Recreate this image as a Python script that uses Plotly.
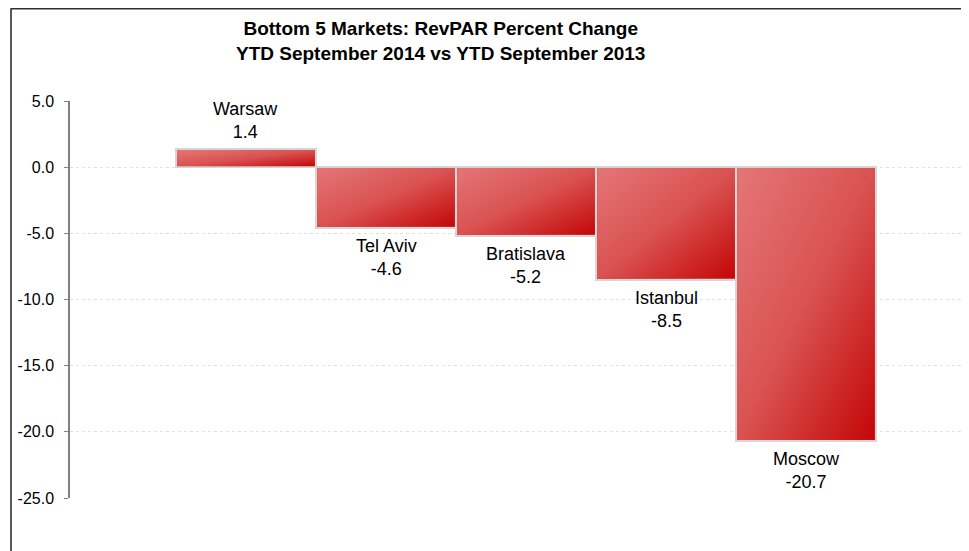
import base64
import plotly.graph_objects as go

markets = ["Warsaw", "Tel Aviv", "Bratislava", "Istanbul", "Moscow"]
revpar_change = [1.4, -4.6, -5.2, -8.5, -20.7]
y_ticks = [5, 0, -5, -10, -15, -20, -25]
y_tick_labels = ["5.0", "0.0", "-5.0", "-10.0", "-15.0", "-20.0", "-25.0"]
title_lines = ["Bottom 5 Markets: RevPAR Percent Change", "YTD September 2014 vs YTD September 2013"]

FONT = "Liberation Sans, Arial, sans-serif"

# The page keeps its default 8px body margin, so the figure starts at page (8, 8).
OFF = 8
# plot-area geometry in page pixels
L, R, T, B = 70, 969, 101, 498
W, H = 969 - OFF, 551 - OFF


def px_x(p):
    return (p - L) / (R - L)


def px_y(p):
    return (B - p) / (B - T)


svg = ('<svg xmlns="http://www.w3.org/2000/svg" width="100" height="100" viewBox="0 0 100 100" '
       'preserveAspectRatio="none"><defs><linearGradient id="g" x1="0" y1="0" x2="1" y2="1">'
       '<stop offset="0" stop-color="#e47676"/><stop offset="0.5" stop-color="#da5252"/>'
       '<stop offset="1" stop-color="#c40606"/></linearGradient></defs>'
       '<rect x="0" y="0" width="100" height="100" fill="url(#g)"/></svg>')
grad_src = "data:image/svg+xml;base64," + base64.b64encode(svg.encode()).decode()

x_idx = list(range(len(markets)))

fig = go.Figure()
fig.add_trace(go.Bar(
    x=x_idx, y=revpar_change, width=1.0,
    marker=dict(color="#d84c4c", line=dict(color="#d6d6d6", width=2)),
    hoverinfo="skip", showlegend=False,
))

images = []
annotations = []
dx = 0.008
dy = 0.09
lab_font = dict(family=FONT, size=18, color="#000000")
for i, v in enumerate(revpar_change):
    images.append(dict(
        source=grad_src, xref="x", yref="y",
        x=i - 0.5 + dx, y=max(v, 0) - (dy if v > 0 else dy * 0.5),
        sizex=1 - 2 * dx, sizey=abs(v) - 1.5 * dy,
        sizing="stretch", xanchor="left", yanchor="top", layer="above",
    ))
    annotations.append(dict(
        x=i, y=v, xref="x", yref="y", text=f"{markets[i]}<br>{v:.1f}", showarrow=False,
        yanchor="middle", yshift=28.5 if v >= 0 else -29.5, font=lab_font,
    ))

annotations.append(dict(
    x=px_x(440), y=px_y(41), xref="paper", yref="paper",
    text="<b>" + title_lines[0] + "<br>" + title_lines[1] + "</b>", showarrow=False,
    xanchor="center", yanchor="middle",
    font=dict(family=FONT, size=19, color="#000000"),
))

shapes = [
    dict(type="line", xref="paper", yref="paper",
         x0=px_x(11), x1=px_x(11), y0=px_y(580), y1=px_y(OFF + 0.75),
         line=dict(color="#222222", width=1.5), layer="above"),
    dict(type="line", xref="paper", yref="paper",
         x0=px_x(10.5), x1=px_x(980), y0=px_y(OFF + 0.75), y1=px_y(OFF + 0.75),
         line=dict(color="#303030", width=1.5), layer="above"),
]

fig.update_layout(
    width=W, height=H,
    margin=dict(l=L - OFF, r=969 - R, t=T - OFF, b=551 - B, pad=0),
    paper_bgcolor="white", plot_bgcolor="white",
    bargap=0,
    images=images, annotations=annotations, shapes=shapes,
    xaxis=dict(range=[-1.257, 5.164], showticklabels=False, showgrid=False,
               zeroline=False, showline=False, ticks=""),
    yaxis=dict(range=[-25, 5], tickvals=y_ticks, ticktext=y_tick_labels,
               showgrid=True, gridcolor="#e0e0e0", griddash="dot", gridwidth=1,
               zeroline=False, showline=True, linecolor="#808080", linewidth=1.5,
               ticks="outside", ticklen=4, tickcolor="#808080", tickwidth=1,
               ticklabelstandoff=7,
               tickfont=dict(family=FONT, size=16, color="#000000")),
    font=dict(family=FONT),
)

fig.write_html("out.html", config={"displayModeBar": False})
